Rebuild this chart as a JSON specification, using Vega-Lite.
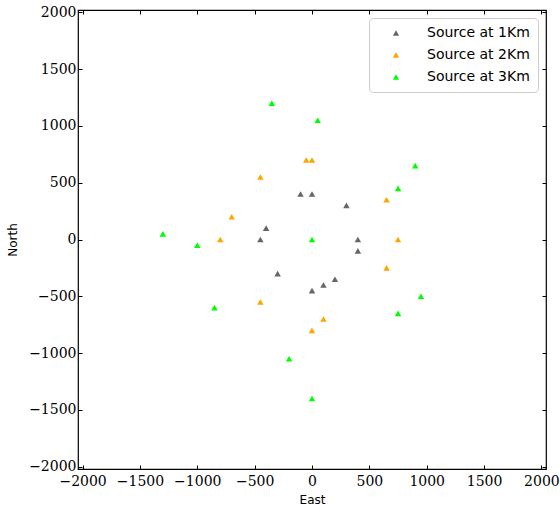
{
  "$schema": "https://vega.github.io/schema/vega-lite/v6.json",
  "autosize": {"type": "none"},
  "width": 468,
  "height": 459,
  "padding": {"left": 78, "top": 10, "right": 14, "bottom": 41},
  "background": "white",
  "config": {
    "view": {"stroke": "black", "strokeWidth": 1.2},
    "axis": {
      "grid": false,
      "domain": false,
      "tickColor": "black",
      "tickSize": -4,
      "tickWidth": 1,
      "labelFont": "DejaVu Serif",
      "labelFontSize": 14,
      "labelColor": "black",
      "titleFont": "DejaVu Sans",
      "titleFontSize": 12,
      "titleFontWeight": "normal",
      "titleColor": "black",
      "labelExpr": "replace(format(datum.value, 'd'), '-', '−')"
    }
  },
  "data": {
    "values": [
      {"East": -450, "North": 0, "Source": "Source at 1Km"},
      {"East": -400, "North": 100, "Source": "Source at 1Km"},
      {"East": -300, "North": -300, "Source": "Source at 1Km"},
      {"East": -100, "North": 400, "Source": "Source at 1Km"},
      {"East": 0, "North": 400, "Source": "Source at 1Km"},
      {"East": 300, "North": 300, "Source": "Source at 1Km"},
      {"East": 400, "North": 0, "Source": "Source at 1Km"},
      {"East": 400, "North": -100, "Source": "Source at 1Km"},
      {"East": 200, "North": -350, "Source": "Source at 1Km"},
      {"East": 100, "North": -400, "Source": "Source at 1Km"},
      {"East": 0, "North": -450, "Source": "Source at 1Km"},
      {"East": -50, "North": 700, "Source": "Source at 2Km"},
      {"East": 0, "North": 700, "Source": "Source at 2Km"},
      {"East": -450, "North": 550, "Source": "Source at 2Km"},
      {"East": -700, "North": 200, "Source": "Source at 2Km"},
      {"East": -800, "North": 0, "Source": "Source at 2Km"},
      {"East": -450, "North": -550, "Source": "Source at 2Km"},
      {"East": 100, "North": -700, "Source": "Source at 2Km"},
      {"East": 0, "North": -800, "Source": "Source at 2Km"},
      {"East": 650, "North": 350, "Source": "Source at 2Km"},
      {"East": 750, "North": 0, "Source": "Source at 2Km"},
      {"East": 650, "North": -250, "Source": "Source at 2Km"},
      {"East": -350, "North": 1200, "Source": "Source at 3Km"},
      {"East": 50, "North": 1050, "Source": "Source at 3Km"},
      {"East": 900, "North": 650, "Source": "Source at 3Km"},
      {"East": 750, "North": 450, "Source": "Source at 3Km"},
      {"East": -1300, "North": 50, "Source": "Source at 3Km"},
      {"East": -1000, "North": -50, "Source": "Source at 3Km"},
      {"East": 0, "North": 0, "Source": "Source at 3Km"},
      {"East": -850, "North": -600, "Source": "Source at 3Km"},
      {"East": 950, "North": -500, "Source": "Source at 3Km"},
      {"East": 750, "North": -650, "Source": "Source at 3Km"},
      {"East": -200, "North": -1050, "Source": "Source at 3Km"},
      {"East": 0, "North": -1400, "Source": "Source at 3Km"}
    ]
  },
  "resolve": {"axis": {"x": "independent", "y": "independent"}},
  "layer": [
    {
      "mark": {"type": "point", "shape": "triangle-up", "filled": true, "size": 42, "opacity": 1},
      "encoding": {
        "x": {
          "field": "East", "type": "quantitative",
          "scale": {"domain": [-2040, 2040], "nice": false, "zero": false},
          "axis": {"values": [-2000, -1500, -1000, -500, 0, 500, 1000, 1500, 2000], "title": "East", "labelPadding": 9, "titlePadding": 6}
        },
        "y": {
          "field": "North", "type": "quantitative",
          "scale": {"domain": [-2020, 2020], "nice": false, "zero": false},
          "axis": {"values": [-2000, -1500, -1000, -500, 0, 500, 1000, 1500, 2000], "title": "North", "labelPadding": 6, "titlePadding": 9}
        },
        "color": {
          "field": "Source", "type": "nominal",
          "scale": {"domain": ["Source at 1Km", "Source at 2Km", "Source at 3Km"], "range": ["#666666", "#FFA500", "#00FF00"]},
          "legend": {
            "title": null,
            "orient": "top-right",
            "offset": 8,
            "padding": 8,
            "strokeColor": "#cccccc",
            "cornerRadius": 4,
            "fillColor": "white",
            "labelFont": "DejaVu Sans",
            "labelFontSize": 14,
            "labelColor": "black",
            "symbolType": "triangle-up",
            "symbolSize": 38,
            "symbolOffset": 12,
            "labelOffset": 24,
            "rowPadding": 8
          }
        }
      }
    },
    {
      "mark": {"type": "point", "opacity": 0},
      "encoding": {
        "x": {"field": "East", "type": "quantitative", "axis": {"orient": "top", "labels": false, "title": null, "values": [-2000, -1500, -1000, -500, 0, 500, 1000, 1500, 2000]}},
        "y": {"field": "North", "type": "quantitative", "axis": {"orient": "right", "labels": false, "title": null, "values": [-2000, -1500, -1000, -500, 0, 500, 1000, 1500, 2000]}}
      }
    }
  ]
}
